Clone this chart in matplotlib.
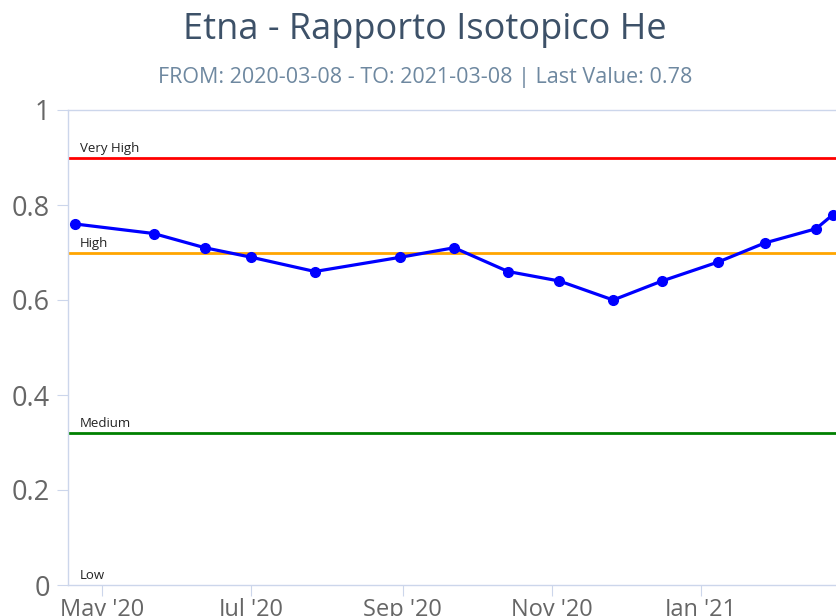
import matplotlib.pyplot as plt
import numpy as np
from datetime import datetime

# dati
date_str = ["2020-04-20", "2020-05-22", "2020-06-12", "2020-07-01", "2020-07-27",
            "2020-08-31", "2020-09-22", "2020-10-14", "2020-11-04", "2020-11-26",
            "2020-12-16", "2021-01-08", "2021-01-27", "2021-02-17", "2021-02-24"]
valori = [0.76, 0.74, 0.71, 0.69, 0.66, 0.69, 0.71, 0.66, 0.64, 0.60,
          0.64, 0.68, 0.72, 0.75, 0.78]

soglie = [0.9, 0.7, 0.32, 0.0]
soglie_nomi = ["Very High", "High", "Medium", "Low"]
soglie_colori = ["#ff0000", "#ffa500", "#008000", "#ffffff"]

mesi_tick = ["2020-05-01", "2020-07-01", "2020-09-01", "2020-11-01", "2021-01-01"]
mesi_lbl = ["May '20", "Jul '20", "Sep '20", "Nov '20", "Jan '21"]

titolo = "Etna - Rapporto Isotopico He"
sottotitolo = "FROM: 2020-03-08 - TO: 2021-03-08 | Last Value: 0.78"

plt.rcParams['font.family'] = ['Open Sans', 'DejaVu Sans']

W, H = 837, 616
fig = plt.figure(figsize=(W/100, H/100), dpi=100)
ax = fig.add_axes([68/W, 1-585/H, 1-68/W, (585-110)/H])

x = [datetime.strptime(d, "%Y-%m-%d") for d in date_str]
xmin = datetime(2020, 4, 17)
xmax = datetime(2021, 2, 25, 14)

# linee di soglia
for v, nome, col in zip(soglie, soglie_nomi, soglie_colori):
    if v > 0:
        ax.axhline(v, color=col, lw=2, zorder=2)
    ax.text(0.015, v + 0.006, nome, transform=ax.get_yaxis_transform(),
            fontsize=9.5, color="#222222", va="bottom", ha="left")

ax.plot(x, valori, color="#0000ff", lw=2.3, marker="o", ms=7, zorder=3,
        clip_on=False)

ax.set_xlim(xmin, xmax)
ax.set_ylim(0, 1)

ax.set_yticks(np.arange(0, 1.01, 0.2))
ax.set_yticklabels(["0", "0.2", "0.4", "0.6", "0.8", "1"])
ax.set_xticks([datetime.strptime(d, "%Y-%m-%d") for d in mesi_tick])
ax.set_xticklabels(mesi_lbl)

ax.spines["right"].set_visible(False)
for s in ["left", "bottom", "top"]:
    ax.spines[s].set_color("#ccd6eb")
    ax.spines[s].set_linewidth(1)

ax.tick_params(axis="y", length=8, color="#ccd6eb", labelsize=19.5,
               labelcolor="#666666", pad=5)
ax.tick_params(axis="x", length=8, color="#ccd6eb", labelsize=17,
               labelcolor="#666666", pad=1)

fig.text(425/W, 1-30/H, titolo, ha="center", va="center", fontsize=26,
         color="#3d5168")
fig.text(425/W, 1-77/H, sottotitolo, ha="center", va="center", fontsize=15.5,
         color="#6e88a0")

fig.savefig("out.png", dpi=100)
